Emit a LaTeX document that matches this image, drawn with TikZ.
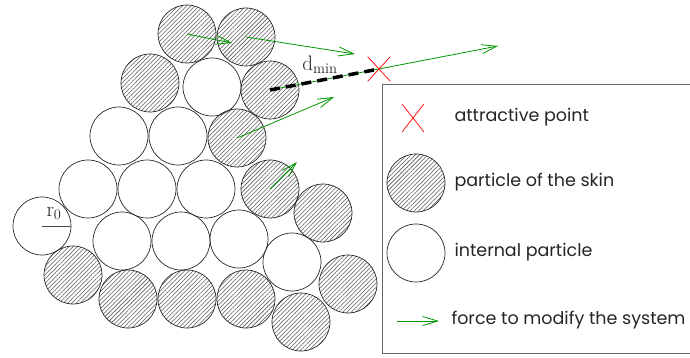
\documentclass[tikz,border=0pt]{standalone}
\usepackage{fontspec}
\setsansfont{Poppins}
\usetikzlibrary{arrows.meta,patterns.meta,shapes.misc}

\definecolor{forcegreen}{RGB}{0,150,0}

\begin{document}
\begin{tikzpicture}[x=1pt, y=-1pt,
    particle/.style={circle, draw=black!85, line width=0.7pt, minimum size=58pt, inner sep=0pt},
    skin/.style={particle, pattern={Lines[angle=45, distance=3pt, line width=0.55pt]}, pattern color=black!65},
    force/.style={forcegreen, line width=0.8pt, -{Straight Barb[length=15pt,width=9pt]}},
    attract/.style={cross out, draw=red, line width=0.7pt, minimum width=22pt, minimum height=24pt, inner sep=0pt},
    legtext/.style={anchor=west, font=\sffamily\fontsize{17.5}{19}\selectfont, text=black!85},
    mathlabel/.style={font=\fontsize{21}{23}\selectfont, text=black!85}]
    \useasboundingbox (0,0) rectangle (690,358);

    % particles of the skin
    \foreach \n/\x/\y in {s1/187/34, s2/246/37, s3/150/83, s4/270/90, s5/237/138,
        s6/270/189, s7/323/213, s8/73/275, s9/128/299, s10/187/299,
        s11/246/299, s12/301/322, s13/348/284}
        \node[skin] (\n) at (\x,\y) {};

    % internal particles
    \foreach \n/\x/\y in {i1/212/87, i2/119/136, i3/178/136, i4/88/189, i5/147/189,
        i6/206/189, i7/42/226, i8/122/241, i9/181/241, i10/239/239, i11/292/262}
        \node[particle] (\n) at (\x,\y) {};

    % radius
    \draw[black!70, line width=0.8pt] (i7.center) -- (i7.east);
    \node[mathlabel] (r0) at (54,213) {$\mathrm{r}_0$};

    % forces
    \coordinate (f1) at (232,43);
    \coordinate (f2) at (355,54);
    \coordinate (f3) at (334,97);
    \coordinate (f4) at (297,162);
    \coordinate (f5) at (498,46);
    \draw[force] (s1.center) -- (f1);
    \draw[force] (s2.center) -- (f2);
    \draw[force] (s5.center) -- (f3);
    \draw[force] (s6.center) -- (f4);
    \draw[force] (s4.center) -- (f5);

    % attractive point and distance
    \node[attract] (target) at (379,69) {};
    \draw[line width=3.5pt, dash pattern=on 10pt off 6pt] (s4.center) -- (target.center);
    \node[mathlabel] (dmin) at (320,65) {$\mathrm{d}_{\mathrm{min}}$};

    % legend
    \draw[black!60, line width=0.8pt, fill=white] (382,84) rectangle (700,353);
    \node[attract, minimum width=21pt, minimum height=27pt] (lx) at (413,118) {};
    \node[legtext] (lxt) at (451,117) {attractive point};
    \node[skin] (ls) at (416,183) {};
    \node[legtext] (lst) at (451,182) {particle of the skin};
    \node[particle] (li) at (416,253) {};
    \node[legtext] (lit) at (451,252) {internal particle};
    \coordinate (lf1) at (397,321);
    \coordinate (lf2) at (439,321);
    \draw[force] (lf1) -- (lf2);
    \node[legtext] (lft) at (448,320) {force to modify the system};
\end{tikzpicture}
\end{document}
